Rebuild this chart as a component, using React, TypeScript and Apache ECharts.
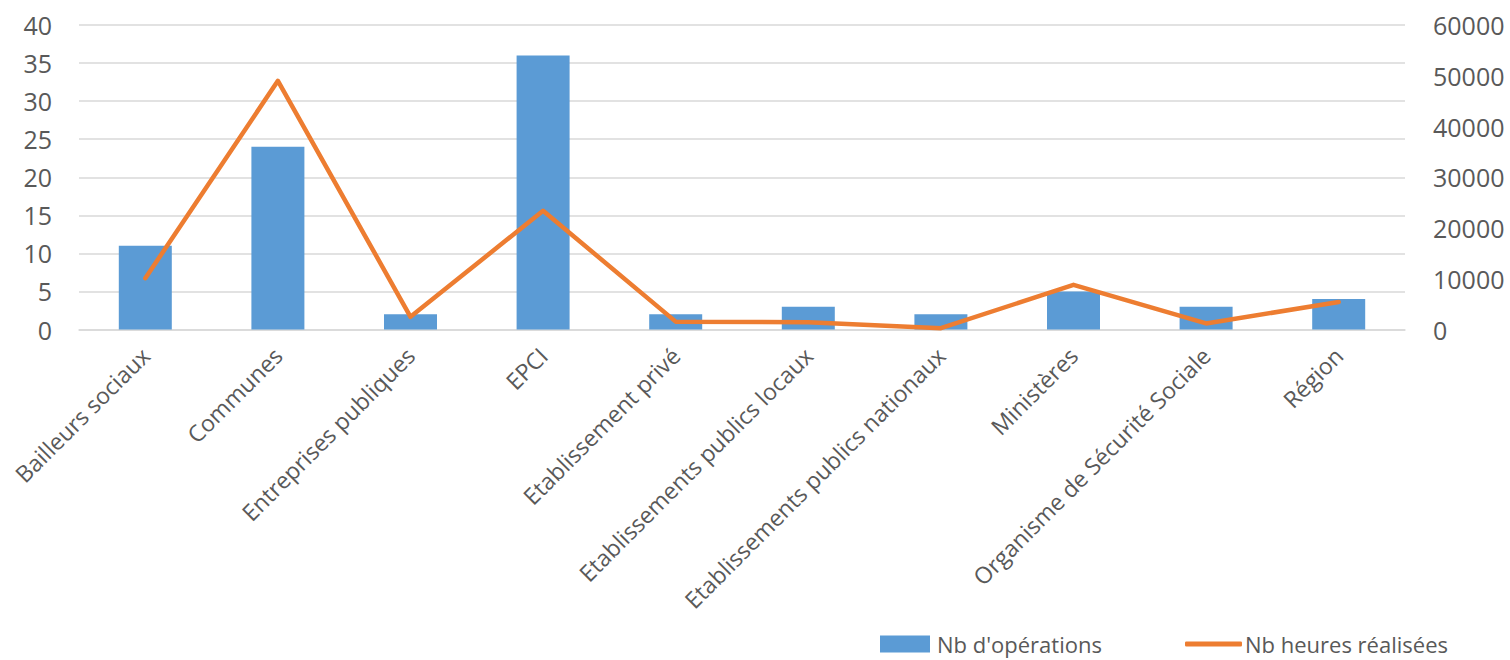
import React, { useEffect, useRef } from "react";
import * as echarts from "echarts";

const categories = [
  "Bailleurs sociaux",
  "Communes",
  "Entreprises publiques",
  "EPCI",
  "Etablissement privé",
  "Etablissements publics locaux",
  "Etablissements publics nationaux",
  "Ministères",
  "Organisme de Sécurité Sociale",
  "Région",
];
const nbOperations = [11, 24, 2, 36, 2, 3, 2, 5, 3, 4];
const nbHeures = [10100, 49000, 2500, 23400, 1550, 1450, 250, 8800, 1200, 5400];
const seriesNames = ["Nb d'opérations", "Nb heures réalisées"];

const FONT = "'Open Sans', sans-serif";
const TEXT = "#595959";

export default function App() {
  const ref = useRef<HTMLDivElement>(null);
  useEffect(() => {
    const chart = echarts.init(ref.current!, null, { renderer: "svg" });
    chart.setOption({
      animation: false,
      backgroundColor: "#ffffff",
      textStyle: { fontFamily: FONT },
      grid: { left: 79, right: 105, top: 25, bottom: 330.5, containLabel: false },
      legend: [
        {
          left: 875,
          top: 626,
          itemWidth: 50,
          itemHeight: 17,
          textStyle: { fontFamily: FONT, fontSize: 22, lineHeight: 26, color: TEXT, padding: [0, 0, 0, 2] },
          data: [{ name: seriesNames[0], icon: "rect" }],
        },
        {
          left: 1180,
          top: 626,
          itemWidth: 57,
          itemHeight: 5,
          textStyle: { fontFamily: FONT, fontSize: 22, lineHeight: 26, color: TEXT, padding: [0, 0, 0, -2] },
          data: [{ name: seriesNames[1], icon: "roundRect" }],
        },
      ],
      xAxis: {
        type: "category",
        data: categories,
        axisTick: { show: false },
        axisLine: { show: true, lineStyle: { color: "#d9d9d9", width: 1.5 } },
        axisLabel: {
          interval: 0,
          rotate: 45,
          margin: 22,
          fontFamily: FONT,
          fontSize: 23,
          color: TEXT,
        },
      },
      yAxis: [
        {
          type: "value",
          min: 0,
          max: 40,
          interval: 5,
          axisLine: { show: false },
          axisTick: { show: false },
          splitLine: { lineStyle: { color: "#d9d9d9", width: 1.5 } },
          axisLabel: { margin: 27, fontFamily: FONT, fontSize: 25, color: TEXT },
        },
        {
          type: "value",
          min: 0,
          max: 60000,
          interval: 10000,
          axisLine: { show: false },
          axisTick: { show: false },
          splitLine: { show: false },
          axisLabel: {
            margin: 28,
            fontFamily: FONT,
            fontSize: 25,
            color: TEXT,
            formatter: (v: number) => String(v),
          },
        },
      ],
      series: [
        {
          name: seriesNames[0],
          type: "bar",
          data: nbOperations,
          barWidth: 53,
          itemStyle: { color: "#5B9BD5" },
          yAxisIndex: 0,
        },
        {
          name: seriesNames[1],
          type: "line",
          data: nbHeures,
          yAxisIndex: 1,
          symbol: "none",
          lineStyle: { color: "#ED7D31", width: 4.5, cap: "round", join: "round" },
          itemStyle: { color: "#ED7D31" },
        },
      ],
    });
    return () => chart.dispose();
  }, []);
  return (
    <div
      ref={ref}
      style={{ position: "fixed", left: 0, top: 0, width: 1510, height: 660 }}
    />
  );
}
